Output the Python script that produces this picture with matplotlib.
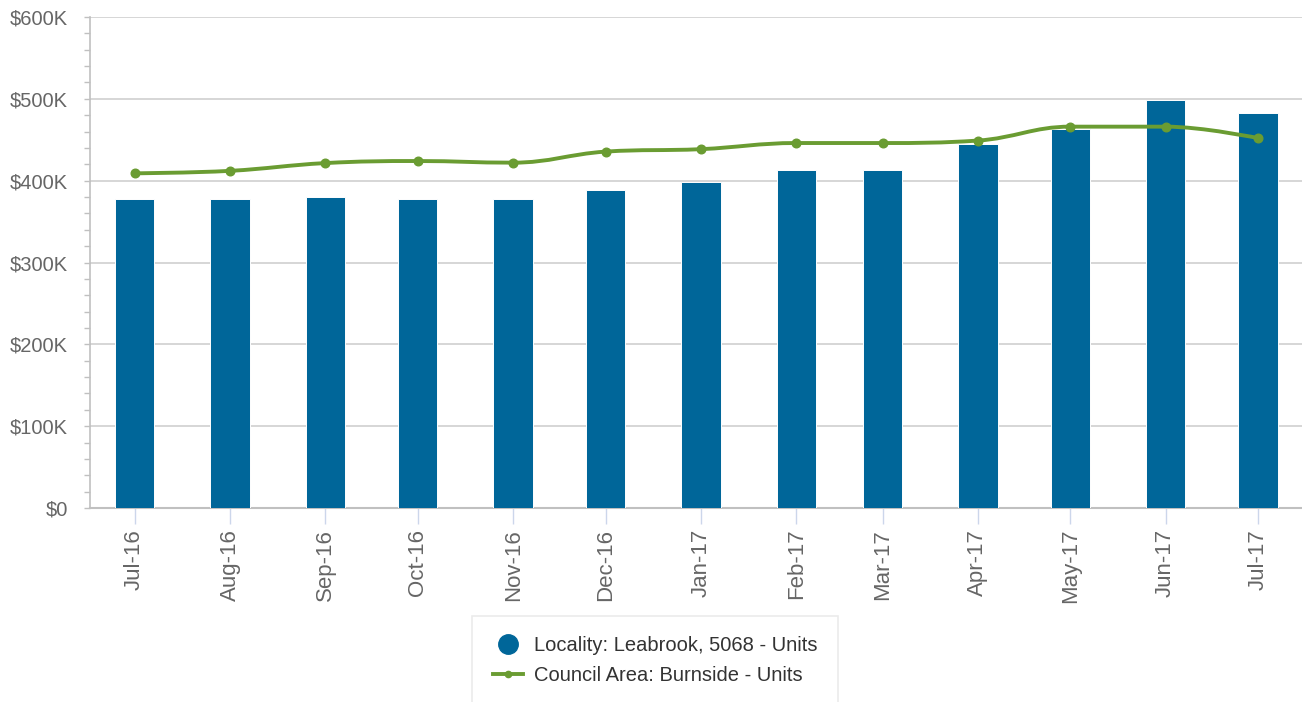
import datetime as dt

import matplotlib
matplotlib.use("Agg")
import matplotlib.pyplot as plt
import matplotlib.dates as mdates
import numpy as np
from matplotlib.lines import Line2D
from matplotlib.patches import PathPatch
from matplotlib.path import Path
from matplotlib.ticker import FuncFormatter, MultipleLocator

plt.rcParams["font.family"] = ["Liberation Sans", "DejaVu Sans"]

# ── Data ──────────────────────────────────────────────────────────────────
months = [dt.date(2016, m, 1) for m in range(7, 13)] + \
         [dt.date(2017, m, 1) for m in range(1, 8)]
month_labels = ["Jul-16", "Aug-16", "Sep-16", "Oct-16", "Nov-16", "Dec-16",
                "Jan-17", "Feb-17", "Mar-17", "Apr-17", "May-17", "Jun-17", "Jul-17"]
locality_units = [377500, 377500, 380000, 378000, 378000, 389000,
                  398000, 413000, 413000, 444500, 463500, 498500, 482500]
council_units = [409000, 412000, 421500, 424000, 422000, 435500,
                 438500, 446000, 446000, 449000, 466000, 466000, 452000]

BAR_COLOR = "#006699"
LINE_COLOR = "#6a9c32"
TEXT_COLOR = "#666666"
GRID_COLOR = "#d0d0d0"


def spline_path(xs, ys, smoothing=1.5):
    """Highcharts-style spline: cubic bezier segments through the points."""
    denom = smoothing + 1
    n = len(xs)
    left = [(xs[i], ys[i]) for i in range(n)]
    right = [(xs[i], ys[i]) for i in range(n)]
    for i in range(1, n - 1):
        px, py = xs[i], ys[i]
        lx, ly = xs[i - 1], ys[i - 1]
        nx, ny = xs[i + 1], ys[i + 1]
        lcx = (smoothing * px + lx) / denom
        lcy = (smoothing * py + ly) / denom
        rcx = (smoothing * px + nx) / denom
        rcy = (smoothing * py + ny) / denom
        if rcx != lcx:
            corr = (rcy - lcy) * (rcx - px) / (rcx - lcx) + py - rcy
            lcy += corr
            rcy += corr
        if lcy > ly and lcy > py:
            lcy = max(ly, py); rcy = 2 * py - lcy
        elif lcy < ly and lcy < py:
            lcy = min(ly, py); rcy = 2 * py - lcy
        if rcy > ny and rcy > py:
            rcy = max(ny, py); lcy = 2 * py - rcy
        elif rcy < ny and rcy < py:
            rcy = min(ny, py); lcy = 2 * py - rcy
        left[i] = (lcx, lcy)
        right[i] = (rcx, rcy)
    verts = [(xs[0], ys[0])]
    codes = [Path.MOVETO]
    for i in range(1, n):
        verts += [right[i - 1], left[i], (xs[i], ys[i])]
        codes += [Path.CURVE4] * 3
    return Path(verts, codes)


# ── Figure ────────────────────────────────────────────────────────────────
W, H = 1302, 702
fig = plt.figure(figsize=(W / 100, H / 100), dpi=100)
ax = fig.add_axes([90 / W, 1 - 508 / H, 1212 / W, 491 / H])

x = mdates.date2num(months)
ax.bar(x, locality_units, width=12.8, color=BAR_COLOR,
       edgecolor="white", linewidth=0.7, zorder=3)

ax.add_patch(PathPatch(spline_path(list(x), council_units), facecolor="none",
                       edgecolor=LINE_COLOR, lw=2.8, zorder=4,
                       capstyle="round", joinstyle="round"))
ax.plot(x, council_units, linestyle="none", marker="o", markersize=6.2,
        color=LINE_COLOR, zorder=5)

ax.set_xlim(x[0] - 14.5, x[-1] + 14.3)
ax.set_ylim(0, 600000)

# y axis
ax.yaxis.set_major_locator(MultipleLocator(100000))
ax.yaxis.set_minor_locator(MultipleLocator(20000))
ax.yaxis.set_major_formatter(FuncFormatter(
    lambda v, _: "$0" if v == 0 else f"${v / 1000:.0f}K"))
ax.tick_params(axis="y", which="both", length=4.3, width=1, color="#c0c0c0",
               labelsize=14.5, labelcolor=TEXT_COLOR, pad=11.5)
ax.grid(axis="y", which="major", color=GRID_COLOR, lw=1.2, zorder=0)

# x axis
ax.set_xticks(x)
ax.set_xticklabels(month_labels, rotation=90)
ax.tick_params(axis="x", length=11.5, width=1, color="#ccd6eb",
               labelsize=16, labelcolor=TEXT_COLOR, pad=3.5)

for side in ("top", "right"):
    ax.spines[side].set_visible(False)
ax.spines["left"].set_color("#c0c0c0")
ax.spines["bottom"].set_color("#c0c0c0")
ax.spines["left"].set_linewidth(1.2)
ax.spines["bottom"].set_linewidth(1.5)
ax.set_axisbelow(True)

# legend
handles = [
    Line2D([], [], linestyle="none", marker="o", markersize=14,
           color=BAR_COLOR),
    Line2D([], [], color=LINE_COLOR, lw=2.8, marker="o", markersize=4.5),
]
labels = ["Locality: Leabrook, 5068 - Units", "Council Area: Burnside - Units"]
leg = fig.legend(handles, labels, loc="upper center",
                 bbox_to_anchor=(655 / W, 1 - 616 / H),
                 fontsize=14.5, labelcolor="#333333", frameon=True,
                 fancybox=False, edgecolor="#e6e6e6", handlelength=1.5,
                 handletextpad=0.55, borderpad=1.0, labelspacing=0.55,
                 borderaxespad=0)
leg.get_frame().set_linewidth(1.2)

fig.savefig("out.png", dpi=100, facecolor="white")
